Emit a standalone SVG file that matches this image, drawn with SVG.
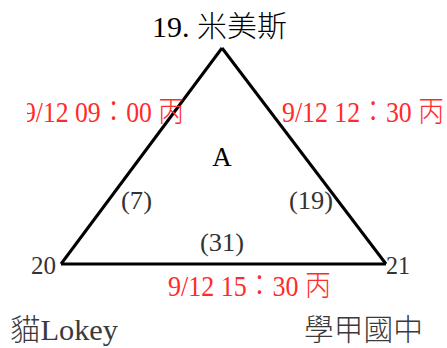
<svg xmlns="http://www.w3.org/2000/svg" width="447" height="348" viewBox="0 0 447 348">
<style>
text{font-family:"Liberation Serif","Noto Sans CJK TC",serif;font-weight:300}
.red{fill:#ff2a2a;font-size:29px}
.gray{fill:#333;font-size:26px}
.edge{stroke:#000;stroke-width:3;fill:none;stroke-linecap:butt}
</style>
<defs>
<clipPath id="clipL"><rect x="27" y="0" width="420" height="348"/></clipPath>
</defs>
<rect width="447" height="348" fill="#fff"/>
<g id="connectors">
<line class="edge" x1="222" y1="48" x2="61" y2="264"/>
<line class="edge" x1="222" y1="48" x2="386" y2="264"/>
<line class="edge" x1="61" y1="264" x2="386" y2="264"/>
</g>
<g id="node-top">
<text x="152" y="37" font-size="29" fill="#000" textLength="135" lengthAdjust="spacingAndGlyphs">19. 米美斯</text>
</g>
<g id="node-20">
<text class="gray" x="31" y="274" textLength="25" lengthAdjust="spacingAndGlyphs">20</text>
</g>
<g id="node-21">
<text class="gray" x="386" y="274" textLength="24" lengthAdjust="spacingAndGlyphs">21</text>
</g>
<g id="face-A">
<text x="222" y="166" font-size="27" fill="#000" text-anchor="middle">A</text>
</g>
<g id="edge-labels">
<text class="gray" x="121" y="209" textLength="31" lengthAdjust="spacingAndGlyphs">(7)</text>
<text class="gray" x="289" y="209" textLength="44" lengthAdjust="spacingAndGlyphs">(19)</text>
<text class="gray" x="200" y="251" textLength="44" lengthAdjust="spacingAndGlyphs">(31)</text>
<g clip-path="url(#clipL)">
<text class="red" x="23" y="122" textLength="161" lengthAdjust="spacingAndGlyphs">9/12 09：00 丙</text>
</g>
<text class="red" x="282" y="122" textLength="162" lengthAdjust="spacingAndGlyphs">9/12 12：30 丙</text>
<text class="red" x="168" y="296" textLength="163" lengthAdjust="spacingAndGlyphs">9/12 15：30 丙</text>
</g>
<g id="credits">
<text x="10" y="340" font-size="30" fill="#3a3a3a" textLength="108" lengthAdjust="spacingAndGlyphs">貓Lokey</text>
<text x="304" y="340" font-size="30" fill="#3a3a3a" textLength="119" lengthAdjust="spacingAndGlyphs">學甲國中</text>
</g>
</svg>
